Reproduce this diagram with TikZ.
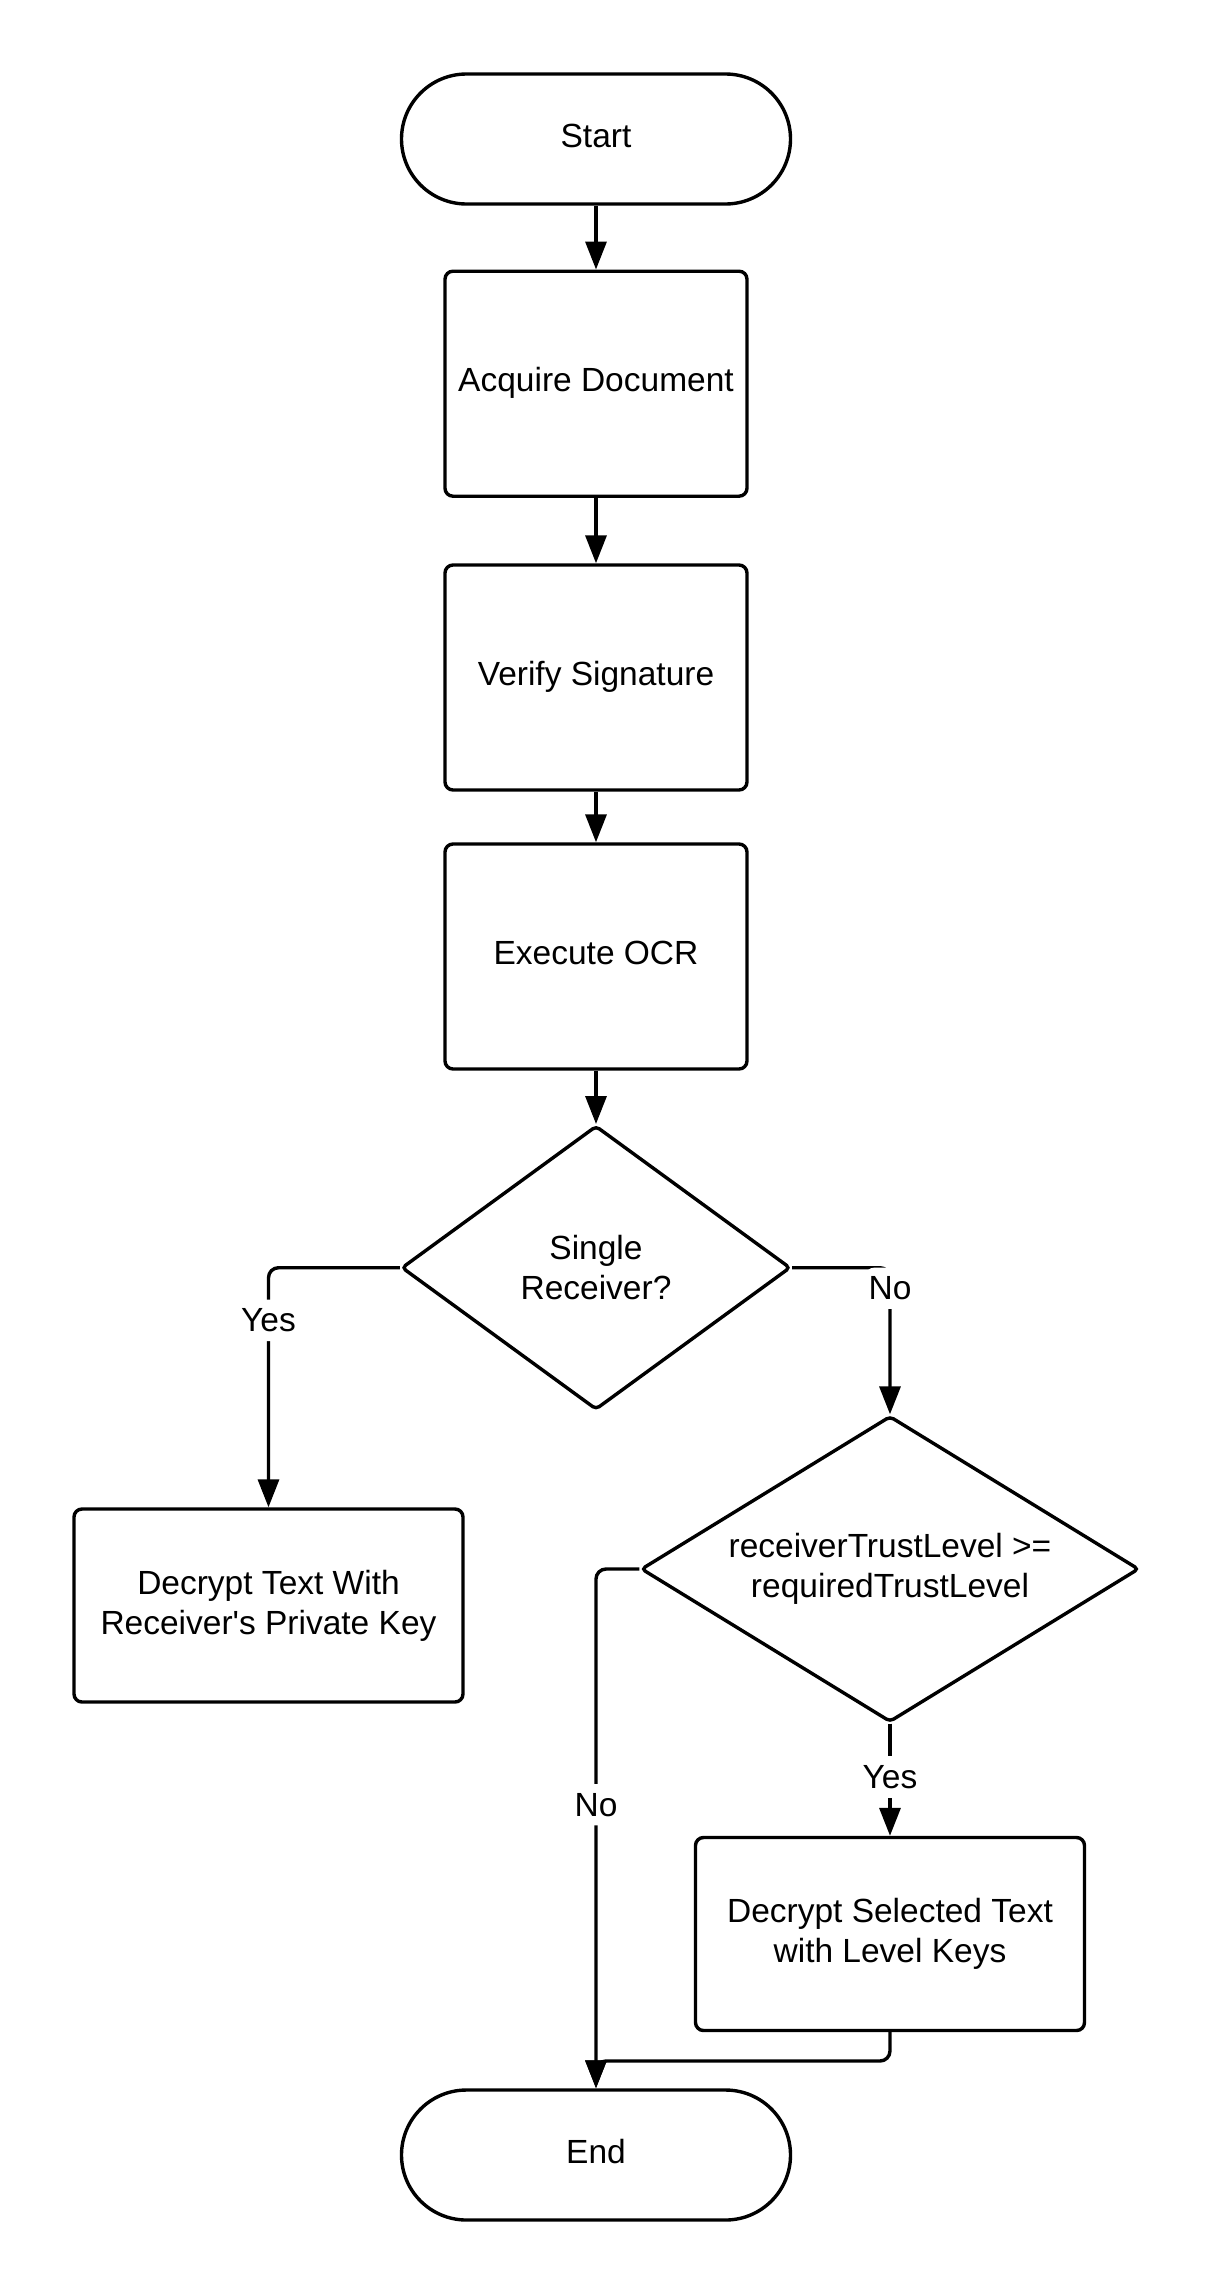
\documentclass[tikz,border=0pt]{standalone}
\usepackage{fontspec}
\setmainfont{Liberation Sans}[Ligatures=TeXOff]
\usetikzlibrary{shapes.geometric,arrows.meta}

\begin{document}
\begin{tikzpicture}[x=1pt, y=-1pt, line width=3.4pt,
    font=\fontsize{33.5}{40}\selectfont,
    terminal/.style={draw, rounded corners=65pt, minimum width=389pt, minimum height=130pt, text height=24pt, text depth=8pt},
    process/.style={draw, rounded corners=8pt, minimum width=302pt, minimum height=225pt, text height=24pt, text depth=8pt},
    widebox/.style={draw, rounded corners=8pt, minimum width=389pt, minimum height=193pt, align=center},
    decision/.style={draw, diamond, rounded corners=4pt, inner sep=0pt, align=center},
    flow/.style={-{Triangle[length=28pt, width=21pt]}},
    lbl/.style={fill=white, inner xsep=4pt, inner ysep=9pt}]
    \useasboundingbox (0,0) rectangle (1219,2295);
    \node[terminal] (start) at (596,139) {Start};
    \node[process] (acquire) at (596,383.7) {Acquire Document};
    \node[process] (verify) at (596,677.5) {Verify Signature};
    \node[process] (ocr) at (596,956.5) {Execute OCR};
    \node[decision, aspect=1.37, minimum width=389pt, minimum height=284pt] (single) at (596,1267.7) {Single\\Receiver?};
    \node[widebox] (decfull) at (268.5,1605.5) {Decrypt Text With\\Receiver's Private Key};
    \node[decision, aspect=1.63, minimum width=498pt, minimum height=306pt] (trust) at (890,1569) {receiverTrustLevel >=\\requiredTrustLevel};
    \node[widebox] (decsel) at (890,1934) {Decrypt Selected Text\\with Level Keys};
    \node[terminal] (finish) at (596,2155) {End};
    \coordinate (join) at (596,2061);
    \path (start) edge[flow] (acquire);
    \path (acquire) edge[flow] (verify);
    \path (verify) edge[flow] (ocr);
    \path (ocr) edge[flow] (single);
    \draw[flow, rounded corners=10pt] (single.west) -| node[lbl, pos=0.61] {Yes} (decfull.north);
    \draw[flow, rounded corners=10pt] (single.east) -| node[lbl, pos=0.57] {No} (trust.north);
    \path (trust.south) edge[flow] node[lbl, pos=0.475] {Yes} (decsel.north);
    \draw[flow, rounded corners=10pt] (trust.west) -| node[lbl, pos=0.727] {No} (finish.north);
    \draw[flow, rounded corners=10pt] (decsel.south) |- (join) -- (finish.north);
\end{tikzpicture}
\end{document}
